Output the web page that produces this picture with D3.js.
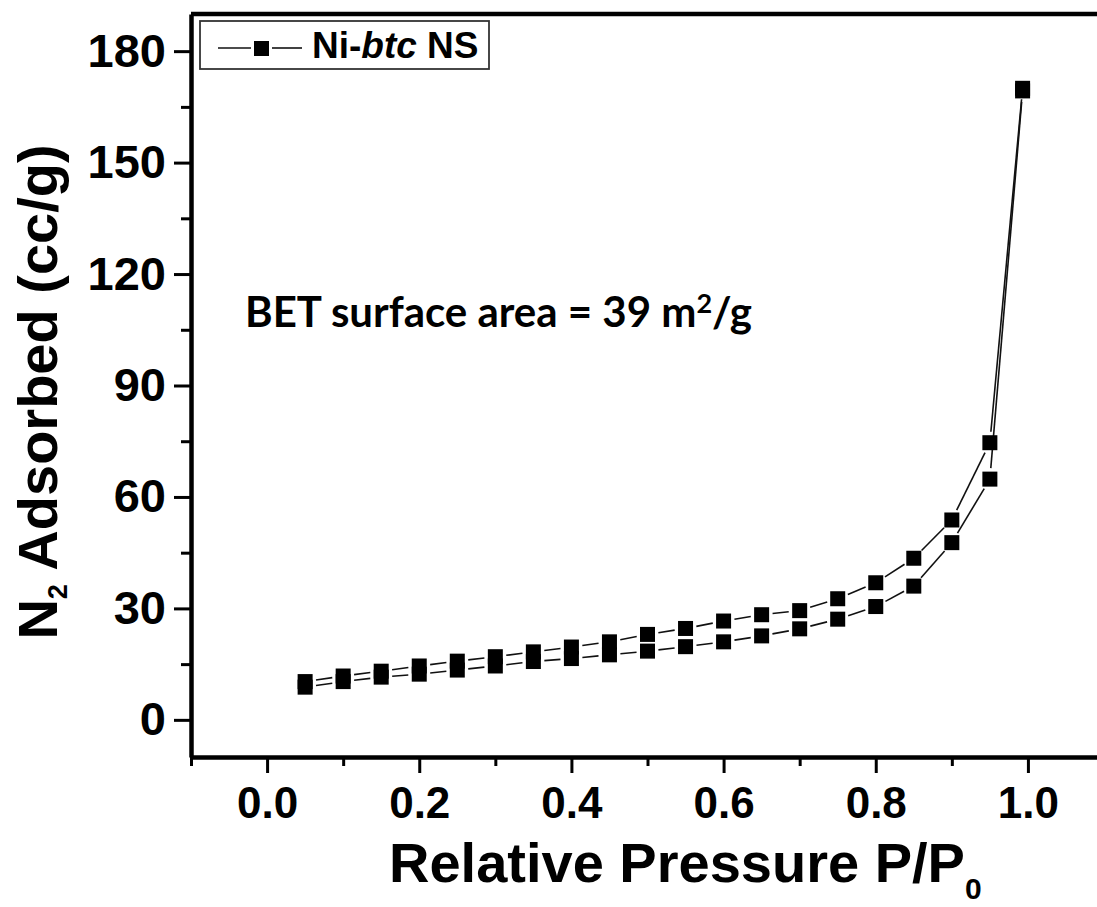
<!DOCTYPE html>
<html>
<head>
<meta charset="utf-8">
<script src="https://cdn.jsdelivr.net/npm/d3@7"></script>
<style>
  html, body { margin: 0; padding: 0; background: #fff; }
  svg { display: block; }
</style>
</head>
<body>
<svg id="chart" width="1097" height="907"></svg>
<script>
// ---- data ----
const pressure = [0.05, 0.10, 0.15, 0.20, 0.25, 0.30, 0.35, 0.40, 0.45, 0.50,
                  0.55, 0.60, 0.65, 0.70, 0.75, 0.80, 0.85, 0.90, 0.95, 0.993];
const adsorption = [8.8, 10.3, 11.5, 12.3, 13.4, 14.5, 15.7, 16.5, 17.5, 18.5,
                    19.7, 21.0, 22.6, 24.5, 27.1, 30.5, 36.0, 47.7, 64.8, 169.3];
const desorption = [10.3, 11.8, 13.1, 14.5, 15.8, 17.0, 18.3, 19.6, 21.0, 23.0,
                    24.6, 26.6, 28.3, 29.4, 32.6, 36.9, 43.5, 53.8, 74.6, 170.0];
const xMajorTicks = [0.0, 0.2, 0.4, 0.6, 0.8, 1.0];
const xMinorTicks = [-0.1, 0.1, 0.3, 0.5, 0.7, 0.9, 1.1];
const yMajorTicks = [0, 30, 60, 90, 120, 150, 180];
const yMinorTicks = [15, 45, 75, 105, 135, 165];
const seriesName = "Ni-btc NS";

// ---- layout ----
const svg = d3.select("#chart");
const x = d3.scaleLinear().domain([-0.1, 1.1]).range([191, 1104]);
const y = d3.scaleLinear().domain([-10, 190]).range([757, 14]);
const AX_W = 4.5;
const FONT = "'Liberation Sans', Arial, sans-serif";

// top frame line
svg.append("line")
  .attr("x1", x.range()[0]).attr("x2", x.range()[1])
  .attr("y1", y.range()[1]).attr("y2", y.range()[1])
  .attr("stroke", "#000").attr("stroke-width", AX_W);

// x axis minor
svg.append("g").attr("transform", `translate(0,${y.range()[0]})`)
  .call(d3.axisBottom(x).tickValues(xMinorTicks).tickSize(9).tickSizeOuter(0).tickFormat(""))
  .call(g => g.select(".domain").remove())
  .call(g => g.selectAll(".tick line").attr("stroke", "#000").attr("stroke-width", 3));
// x axis major
svg.append("g").attr("transform", `translate(0,${y.range()[0]})`)
  .call(d3.axisBottom(x).tickValues(xMajorTicks).tickSize(16).tickSizeOuter(0)
        .tickPadding(14).tickFormat(d3.format(".1f")))
  .call(g => g.select(".domain").attr("stroke", "#000").attr("stroke-width", AX_W))
  .call(g => g.selectAll(".tick line").attr("stroke", "#000").attr("stroke-width", 3))
  .call(g => g.selectAll(".tick text").attr("fill", "#000")
        .style("font-family", FONT).style("font-weight", "bold").style("font-size", "44px"));

// y axis minor
svg.append("g").attr("transform", `translate(${x.range()[0]},0)`)
  .call(d3.axisLeft(y).tickValues(yMinorTicks).tickSize(10).tickSizeOuter(0).tickFormat(""))
  .call(g => g.select(".domain").remove())
  .call(g => g.selectAll(".tick line").attr("stroke", "#000").attr("stroke-width", 3));
// y axis major
svg.append("g").attr("transform", `translate(${x.range()[0]},0)`)
  .call(d3.axisLeft(y).tickValues(yMajorTicks).tickSize(17).tickSizeOuter(0)
        .tickPadding(8).tickFormat(d3.format("d")))
  .call(g => g.select(".domain").attr("stroke", "#000").attr("stroke-width", AX_W))
  .call(g => g.selectAll(".tick line").attr("stroke", "#000").attr("stroke-width", 3))
  .call(g => g.selectAll(".tick text").attr("fill", "#000")
        .style("font-family", FONT).style("font-weight", "bold").style("font-size", "47px"));

// ---- series: line segments with gaps around markers, then square markers ----
const SQ = 15, GAP = 11;
function drawSeries(xs, ys) {
  const pts = xs.map((d, i) => [x(d), y(ys[i])]);
  const g = svg.append("g");
  for (let i = 0; i < pts.length - 1; i++) {
    const [x1, y1] = pts[i], [x2, y2] = pts[i + 1];
    const dx = x2 - x1, dy = y2 - y1, L = Math.hypot(dx, dy);
    if (L <= 2 * GAP + 2) continue;
    const ux = dx / L, uy = dy / L;
    g.append("line")
      .attr("x1", x1 + ux * GAP).attr("y1", y1 + uy * GAP)
      .attr("x2", x2 - ux * GAP).attr("y2", y2 - uy * GAP)
      .attr("stroke", "#111").attr("stroke-width", 1.6);
  }
  g.selectAll("rect").data(pts).join("rect")
    .attr("x", d => d[0] - SQ / 2).attr("y", d => d[1] - SQ / 2)
    .attr("width", SQ).attr("height", SQ).attr("fill", "#000");
}
drawSeries(pressure, adsorption);
drawSeries(pressure, desorption);

// ---- legend ----
const lg = svg.append("g");
lg.append("rect").attr("x", 200).attr("y", 21).attr("width", 289).attr("height", 48)
  .attr("fill", "#fff").attr("stroke", "#333").attr("stroke-width", 1.8);
lg.append("line").attr("x1", 218).attr("x2", 251).attr("y1", 48).attr("y2", 48)
  .attr("stroke", "#111").attr("stroke-width", 1.6);
lg.append("line").attr("x1", 272).attr("x2", 302).attr("y1", 48).attr("y2", 48)
  .attr("stroke", "#111").attr("stroke-width", 1.6);
lg.append("rect").attr("x", 254).attr("y", 41).attr("width", 15).attr("height", 15).attr("fill", "#000");
const lt = lg.append("text").attr("x", 312).attr("y", 58)
  .style("font-family", FONT).style("font-weight", "bold").style("font-size", "37px").attr("fill", "#000");
lt.append("tspan").text("Ni-");
lt.append("tspan").style("font-style", "italic").text("btc");
lt.append("tspan").text(" NS");

// ---- annotation ----
const ann = svg.append("text").attr("x", 245).attr("y", 327)
  .attr("textLength", 507).attr("lengthAdjust", "spacingAndGlyphs")
  .style("font-family", "Lato, 'Open Sans', sans-serif").style("font-weight", "bold")
  .style("font-size", "42px").attr("fill", "#000");
ann.append("tspan").text("BET surface area = 39 m");
ann.append("tspan").attr("dy", -14).style("font-size", "27px").text("2");
ann.append("tspan").attr("dy", 14).text("/g");

// ---- axis titles ----
const xt = svg.append("text").attr("x", 389).attr("y", 882).attr("text-anchor", "start")
  .style("font-family", FONT).style("font-weight", "bold").style("font-size", "56px").attr("fill", "#000");
xt.append("tspan").text("Relative Pressure P/P");
xt.append("tspan").attr("dy", 17).style("font-size", "30px").text("0");

const yt = svg.append("text").attr("transform", "translate(57,392) rotate(-90)")
  .attr("text-anchor", "middle")
  .style("font-family", FONT).style("font-weight", "bold").style("font-size", "56px").attr("fill", "#000");
yt.append("tspan").text("N");
yt.append("tspan").attr("dy", 10).style("font-size", "27px").text("2");
yt.append("tspan").attr("dy", -10).text(" Adsorbed (cc/g)");
</script>
</body>
</html>
